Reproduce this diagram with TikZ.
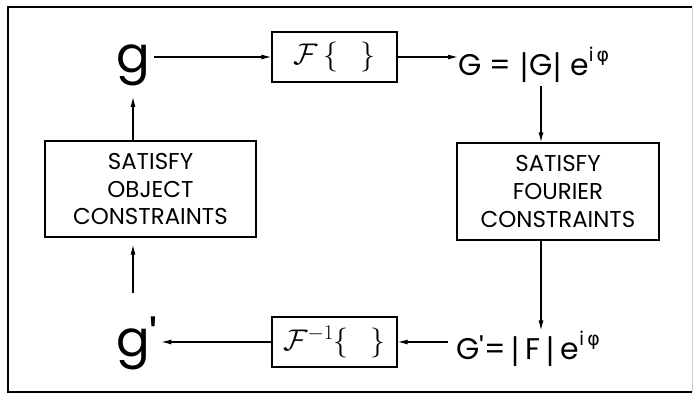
\RequirePackage{fix-cm}
\documentclass[tikz,border=0pt]{standalone}
\usepackage{fontspec}
\setmainfont{Poppins}
\newfontfamily\grkfont{DejaVu Sans}
\usetikzlibrary{arrows.meta,positioning}

\newcommand{\boxfont}{\fontsize{23}{28}\selectfont}
\newcommand{\expo}[1]{\raisebox{14bp}{\fontsize{19}{19}\selectfont #1}}
\newcommand{\vbar}{{\grkfont |}}

\begin{document}
\begin{tikzpicture}[x=1bp,y=-1bp,
    cbox/.style={draw, line width=1.4bp, align=center, font=\boxfont},
    opbox/.style={draw, line width=1.4bp, minimum width=125bp, minimum height=50bp, font=\fontsize{30}{30}\selectfont},
    arr/.style={-{Latex[length=10bp,width=5bp]}, line width=1.1bp},
    big/.style={font=\fontsize{50}{50}\selectfont},
    eq/.style={font=\fontsize{30}{30}\selectfont, inner sep=0}]
    \useasboundingbox (0,0) rectangle (696,394);

    % Rahmen
    \draw[line width=2bp] (692,7) -- (8,7) -- (8,392) -- (692,392);
    \draw[line width=1bp, gray!40] (692,7) -- (692,392);

    % Objektebene
    \node[big, anchor=base] (g) at (133,72) {g};
    \node[big, anchor=base west] (gp) at ([yshift=-284bp]g.base west) {g\textquotesingle};
    \node[cbox, minimum width=211bp, minimum height=96bp] (obj) at (150.5,189) {SATISFY\\OBJECT\\CONSTRAINTS};

    % Fourier-Ebene
    \node[opbox] (fwd) at (334.5,57) {$\mathcal{F}\,\{\hspace{22bp}\}$};
    \node[opbox] (inv) at (334.5,342) {$\mathcal{F}^{-1}\{\hspace{22bp}\}$};
    \node[eq, anchor=base west] (G) at (458,75) {G = \vbar G\vbar\ e\expo{i\,{\grkfont φ}}};
    \node[eq, anchor=base west] (Gp) at (456,359) {G\textquotesingle=\,\vbar\,F\,\vbar\,e\expo{i\,{\grkfont φ}}};
    \node[cbox, minimum width=202bp, minimum height=97bp] (four) at (558,191.5) {SATISFY\\FOURIER\\CONSTRAINTS};

    % Pfeile
    \draw[arr, shorten <=1bp] (g.east |- fwd.west) -- (fwd.west);
    \draw[arr] (fwd.east) -- (G.west |- fwd.east);
    \draw[arr, shorten <=4bp] ([xshift=-17bp]four.north |- G.south) -- ([xshift=-17bp]four.north);
    \draw[arr] ([xshift=-17bp]four.south) -- ([xshift=-17bp]four.south |- Gp.north);
    \draw[arr] ([xshift=-8bp]Gp.west |- inv.east) -- (inv.east);
    \draw[arr] (inv.west) -- (gp.east |- inv.west);
    \draw[arr, shorten >=7bp] ([yshift=20bp]g.south |- gp.north) -- (g.south |- obj.south);
    \draw[arr, shorten >=8bp] (g.south |- obj.north) -- (g.south);
\end{tikzpicture}
\end{document}
